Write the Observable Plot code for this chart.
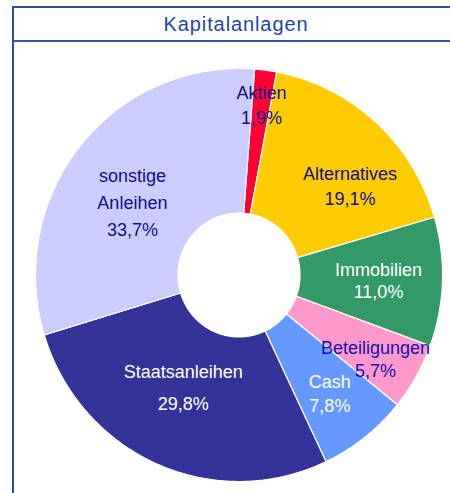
<!DOCTYPE html>
<html>
<head>
<meta charset="utf-8">
<script src="https://cdn.jsdelivr.net/npm/d3@7"></script>
<script src="https://cdn.jsdelivr.net/npm/@observablehq/plot@0.6"></script>
<style>
  html, body { margin: 0; padding: 0; background: #ffffff; }
  body { width: 450px; height: 493px; overflow: hidden; position: relative;
         font-family: "Liberation Sans", Arial, sans-serif; }
  #frame { position: absolute; left: 12px; top: 6px; width: 448px; height: 600px;
           border: 2px solid #2b4ca8; box-sizing: border-box; }
  #title { height: 32px; line-height: 32px; border-bottom: 2px solid #3556ae;
           text-align: center; color: #1f46a8; font-size: 20px; letter-spacing: 0.9px; }
  #chart { position: absolute; left: 0; top: 42px; }
</style>
</head>
<body>
<div id="frame"><div id="title">Kapitalanlagen</div></div>
<div id="chart"></div>
<script>
// ---- data ----
const categories = ["Aktien", "Alternatives", "Immobilien", "Beteiligungen", "Cash", "Staatsanleihen", "sonstige Anleihen"];
const shares = [1.9, 19.1, 11.0, 5.7, 7.8, 29.8, 33.7];
const sliceColors = ["#ff0033", "#ffcc00", "#339966", "#ff99cc", "#6699ff", "#333399", "#ccccff"];
const labelColors = ["#10108c", "#10108c", "#ffffff", "#1414aa", "#ffffff", "#ffffff", "#10108c"];

// ---- label layout (fraction of radius, angular nudge in degrees, line height in em) ----
const labelRadius = [0.84, 0.70, 0.686, 0.783, 0.722, 0.593, 0.636];
const labelNudge = [0, 9, 0, 1.5, 0, 3.6, -4.2];
const labelLineHeight = [1.39, 1.39, 1.22, 1.24, 1.32, 1.8, 1.5];
const startAngleDeg = 4.4;
const innerRadius = 0.30;

const rad = Math.PI / 180;
const pie = d3.pie().value(d => d).sort(null)
  .startAngle(startAngleDeg * rad).endAngle((startAngleDeg + 360) * rad);
const arcs = pie(shares);

// slice outlines in unit-circle coordinates (angles clockwise from 12 o'clock)
const ringPts = [];
arcs.forEach((a, i) => {
  const n = Math.max(2, Math.ceil((a.endAngle - a.startAngle) / (0.5 * rad)));
  for (let k = 0; k <= n; k++) {
    const t = a.startAngle + (a.endAngle - a.startAngle) * k / n;
    ringPts.push({cat: categories[i], x: Math.sin(t), y: Math.cos(t)});
  }
  for (let k = n; k >= 0; k--) {
    const t = a.startAngle + (a.endAngle - a.startAngle) * k / n;
    ringPts.push({cat: categories[i], x: innerRadius * Math.sin(t), y: innerRadius * Math.cos(t)});
  }
});

const fmt = v => v.toFixed(1).replace(".", ",") + "%";
const labelData = arcs.map((a, i) => {
  const mid = (a.startAngle + a.endAngle) / 2 + labelNudge[i] * rad;
  const r = labelRadius[i];
  return {
    x: r * Math.sin(mid), y: r * Math.cos(mid),
    text: categories[i].replace(" ", "\n") + "\n" + fmt(shares[i])
  };
});

const chart = Plot.plot({
  width: 450,
  height: 451,
  marginLeft: 35,
  marginRight: 8,
  marginTop: 26,
  marginBottom: 12,
  x: {domain: [-1, 1], axis: null},
  y: {domain: [-1, 1], axis: null},
  color: {type: "ordinal", domain: categories, range: sliceColors},
  style: {background: "transparent", fontFamily: "'Liberation Sans', Arial, sans-serif"},
  marks: [
    Plot.line(ringPts, {x: "x", y: "y", z: "cat", fill: "cat", stroke: "white", strokeWidth: 1.2, curve: "linear-closed"}),
    ...labelData.map((d, i) => Plot.text([d], {
      x: "x", y: "y", text: "text", fill: labelColors[i], fontSize: 18, lineHeight: labelLineHeight[i]
    }))
  ]
});
document.getElementById("chart").appendChild(chart);
</script>
</body>
</html>
